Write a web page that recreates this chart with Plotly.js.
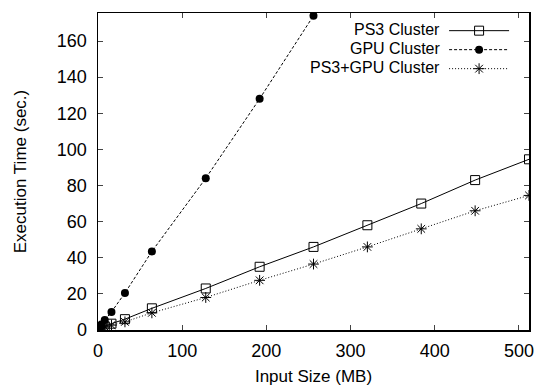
<!DOCTYPE html>
<html><head><meta charset="utf-8">
<script src="https://cdn.plot.ly/plotly-3.0.1.min.js"></script>
<style>html,body{margin:0;padding:0;background:#fff}#c{width:539px;height:387px}</style>
</head><body><div id="c"></div>
<script>
const inputSize = [1, 2, 4, 8, 16, 32, 64, 128, 192, 256, 320, 384, 448, 512];
const gpuSize = [1, 2, 4, 8, 16, 32, 64, 128, 192, 256];
const ps3Time = [0.8, 1.0, 1.3, 2.0, 3.5, 6.0, 12.0, 23.0, 35.0, 46.0, 58.0, 70.0, 83.0, 94.5];
const gpuTime = [1.0, 1.5, 3.0, 5.5, 10.0, 20.5, 43.5, 84.0, 128.0, 174.0];
const hybridTime = [0.7, 0.9, 1.2, 1.8, 2.7, 4.5, 9.5, 18.0, 27.5, 36.5, 46.0, 56.0, 66.0, 74.5];
const seriesNames = ['PS3 Cluster', 'GPU Cluster', 'PS3+GPU Cluster'];
const xTicks = [0, 100, 200, 300, 400, 500];
const yTicks = [0, 20, 40, 60, 80, 100, 120, 140, 160];

const font = 'Liberation Sans, Arial, Helvetica, sans-serif';
const traces = [
  {x: inputSize, y: ps3Time, name: seriesNames[0], mode: 'lines+markers',
   line: {color: '#000', width: 1, dash: 'solid'},
   marker: {symbol: 'square-open', size: 9, color: '#000', line: {width: 1}}},
  {x: gpuSize, y: gpuTime, name: seriesNames[1], mode: 'lines+markers',
   line: {color: '#000', width: 1, dash: '3px,2px'},
   marker: {symbol: 'circle', size: 8, color: '#000'}},
  {x: inputSize, y: hybridTime, name: seriesNames[2], mode: 'lines+markers',
   line: {color: '#000', width: 1, dash: '1px,2px'},
   marker: {symbol: 'asterisk-open', size: 9, color: '#000', line: {width: 1, color: '#000'}}}
];
const annotations = seriesNames.map((n, i) => ({
  text: n, xref: 'paper', yref: 'paper', x: 0.797, xanchor: 'right',
  y: 0.948 - i * 0.06, yanchor: 'middle', showarrow: false,
  font: {family: font, size: 16, color: '#000'}
}));
const layout = {
  width: 539, height: 387,
  margin: {l: 98, r: 10, t: 13, b: 57},
  paper_bgcolor: '#fff', plot_bgcolor: '#fff',
  font: {family: font, size: 18, color: '#000'},
  showlegend: true,
  legend: {x: 0.803, xanchor: 'left', y: 0.99, yanchor: 'top', bgcolor: 'rgba(0,0,0,0)',
           font: {family: font, size: 1, color: 'rgba(0,0,0,0)'}, tracegroupgap: 0, itemwidth: 60},
  annotations: annotations,
  xaxis: {range: [0, 512], tickvals: xTicks, ticktext: xTicks.map(String), ticks: 'inside', ticklen: 5,
          ticklabelstandoff: 4, tickfont: {size: 18},
          mirror: 'ticks', showline: true, linecolor: '#000', linewidth: 1.5, showgrid: false, zeroline: false,
          title: {text: 'Input Size (MB)', font: {family: font, size: 17}, standoff: 10}},
  yaxis: {range: [0, 175.5], tickvals: yTicks, ticktext: yTicks.map(String), ticks: 'inside', ticklen: 5,
          ticklabelstandoff: 6, tickfont: {size: 18},
          mirror: 'ticks', showline: true, linecolor: '#000', linewidth: 1.5, showgrid: false, zeroline: false,
          title: {text: 'Execution Time (sec.)', font: {family: font, size: 17}, standoff: 26}}
};
Plotly.newPlot('c', traces, layout, {displayModeBar: false, staticPlot: true});
</script></body></html>
